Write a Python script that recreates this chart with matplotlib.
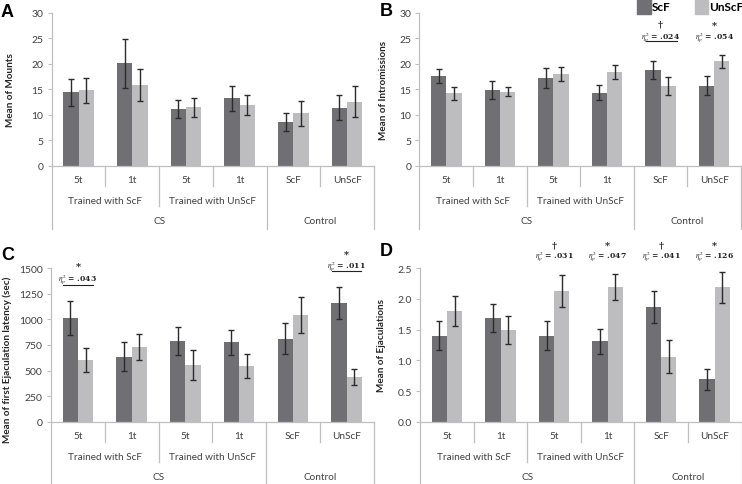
import matplotlib
matplotlib.use("Agg")
import matplotlib.pyplot as plt
from matplotlib.patches import Rectangle
from matplotlib.transforms import blended_transform_factory

plt.rcParams['font.family'] = ['Lato', 'DejaVu Sans']
plt.rcParams['mathtext.fontset'] = 'stix'

W, H = 742, 485

# data (ScF = dark bars, UnScF = light bars)
categories = ['5t', '1t', '5t', '1t', 'ScF', 'UnScF']
subgroups = ['Trained with ScF', 'Trained with UnScF']
groups = ['CS', 'Control']

mounts_scf = [14.4, 20.1, 11.1, 13.2, 8.6, 11.4]
mounts_scf_err = [2.6, 4.8, 1.7, 2.5, 1.75, 2.45]
mounts_unscf = [14.8, 15.8, 11.5, 11.9, 10.3, 12.6]
mounts_unscf_err = [2.4, 3.1, 1.85, 1.9, 2.45, 3.0]

intro_scf = [17.6, 14.9, 17.2, 14.3, 18.8, 15.7]
intro_scf_err = [1.4, 1.8, 1.9, 1.5, 1.85, 1.85]
intro_unscf = [14.2, 14.5, 18.0, 18.4, 15.6, 20.5]
intro_unscf_err = [1.35, 0.9, 1.45, 1.4, 1.8, 1.3]

latency_scf = [1011, 636, 789, 776, 812, 1164]
latency_scf_err = [168, 143, 135, 125, 150, 156]
latency_unscf = [603, 730, 558, 545, 1043, 437]
latency_unscf_err = [114, 127, 146, 120, 172, 82]

ejac_scf = [1.40, 1.69, 1.40, 1.31, 1.87, 0.69]
ejac_scf_err = [0.235, 0.235, 0.235, 0.20, 0.265, 0.175]
ejac_unscf = [1.80, 1.49, 2.13, 2.19, 1.06, 2.19]
ejac_unscf_err = [0.245, 0.23, 0.255, 0.21, 0.27, 0.255]

dark = '#707074'
light = '#bdbdbf'
grid_col = '#bfbfbf'
text_col = '#404040'

fig = plt.figure(figsize=(W / 100, H / 100), dpi=100)


def add_axes(left, right, top, bottom):
    return fig.add_axes([left / W, 1 - bottom / H, (right - left) / W, (bottom - top) / H])


def draw_panel(ax, scf, scf_err, unscf, unscf_err, ymax, step, ylabel, fmt, label_xy):
    x = range(len(categories))
    bw = 0.285
    ax.bar([i - bw / 2 for i in x], scf, bw, color=dark, zorder=2)
    ax.bar([i + bw / 2 for i in x], unscf, bw, color=light, zorder=2)
    ax.errorbar([i - bw / 2 for i in x], scf, yerr=scf_err, fmt='none',
                ecolor='#2b2b2b', elinewidth=1, capsize=2.5, capthick=1, zorder=3)
    ax.errorbar([i + bw / 2 for i in x], unscf, yerr=unscf_err, fmt='none',
                ecolor='#2b2b2b', elinewidth=1, capsize=2.5, capthick=1, zorder=3)
    ax.set_xlim(-0.5, len(categories) - 0.5)
    ax.set_ylim(0, ymax)
    ticks = [i * step for i in range(int(round(ymax / step)) + 1)]
    ax.set_yticks(ticks)
    ax.set_yticklabels([fmt.format(t) for t in ticks])
    ax.tick_params(axis='y', length=3, width=0.8, color=grid_col, labelsize=7.5,
                   labelcolor=text_col, pad=3)
    ax.set_xticks([])
    for s in ['top', 'right']:
        ax.spines[s].set_visible(False)
    for s in ['left', 'bottom']:
        ax.spines[s].set_color(grid_col)
        ax.spines[s].set_linewidth(0.9)
    ax.set_ylabel(ylabel, fontsize=7.2, fontweight='bold', color='#262626')
    ax.yaxis.set_label_coords(*label_xy)

    # multi level category axis
    h_px = ax.get_position().height * H
    tr = blended_transform_factory(ax.transData, ax.transAxes)

    def vline(xv, p0, p1):
        ax.plot([xv, xv], [-p0 / h_px, -p1 / h_px], transform=tr, color=grid_col,
                lw=0.9, clip_on=False)

    n = len(categories)
    for k in range(n + 1):
        xv = k - 0.5
        if k in (0, n, 4):
            vline(xv, 0, 63)
        elif k == 2:
            vline(xv, 0, 40)
        else:
            vline(xv, 0, 20)
    for i, c in enumerate(categories):
        ax.text(i, -14 / h_px, c, transform=tr, ha='center', va='center',
                fontsize=7.2, color=text_col)
    for i, c in enumerate(subgroups):
        ax.text(2 * i + 0.5, -35 / h_px, c, transform=tr, ha='center', va='center',
                fontsize=7.2, color=text_col)
    ax.text(1.5, -55 / h_px, groups[0], transform=tr, ha='center', va='center',
            fontsize=7.2, color=text_col)
    ax.text(4.5, -55 / h_px, groups[1], transform=tr, ha='center', va='center',
            fontsize=7.2, color=text_col)


def annotate(ax, xc, sym, ys, eta, ye, line=None):
    ax.text(xc, ys, sym, ha='center', va='center', fontsize=7, fontweight='bold',
            family='DejaVu Serif', color='#222222', clip_on=False)
    ax.text(xc, ye, r'$\boldsymbol{\eta^2_p}$' + ' = ' + eta, ha='center', va='center',
            fontsize=5.5, fontweight='bold', family='DejaVu Serif', color='#222222',
            clip_on=False)
    if line is not None:
        ax.plot([line[1], line[2]], [line[0], line[0]], color='#222222', lw=0.8,
                clip_on=False)


axA = add_axes(51.7, 373.9, 14, 166.6)
draw_panel(axA, mounts_scf, mounts_scf_err, mounts_unscf, mounts_unscf_err,
           30, 5, 'Mean of Mounts', '{:g}', (-0.114, 0.5))

axB = add_axes(419.5, 741, 14, 166.6)
draw_panel(axB, intro_scf, intro_scf_err, intro_unscf, intro_unscf_err,
           30, 5, 'Mean of Intromissions', '{:g}', (-0.098, 0.5))
annotate(axB, 4, '†', 27.8, '.024', 25.4, (24.4, 3.72, 4.3))
annotate(axB, 5, '*', 27.6, '.054', 25.4)

axC = add_axes(51, 373.5, 269.3, 422.7)
draw_panel(axC, latency_scf, latency_scf_err, latency_unscf, latency_unscf_err,
           1500, 250, 'Mean of first Ejaculation latency (sec)', '{:g}', (-0.122, 0.41))
annotate(axC, 0, '*', 1517, '.043', 1395, (1337, -0.28, 0.28))
annotate(axC, 5, '*', 1640, '.011', 1526, (1474, 4.72, 5.27))

axD = add_axes(420.3, 741.5, 269.3, 422.7)
draw_panel(axD, ejac_scf, ejac_scf_err, ejac_unscf, ejac_unscf_err,
           2.5, 0.5, 'Mean of Ejaculations', '{:.1f}', (-0.107, 0.5))
for xc, sym, eta in [(2, '†', '.031'), (3, '*', '.047'), (4, '†', '.041'), (5, '*', '.126')]:
    annotate(axD, xc, sym, 2.88, eta, 2.71)

# panel letters
for letter, px, py in [('A', 1, 12.5), ('B', 380, 11), ('C', 1, 255.5), ('D', 380, 251.5)]:
    fig.text(px / W, 1 - py / H, letter, fontsize=13, fontweight='bold',
             family='Liberation Sans', va='center', ha='left')

# legend
fig.add_artist(Rectangle((637 / W, 1 - 15 / H), 14 / W, 15 / H, transform=fig.transFigure,
                         color=dark))
fig.text(652 / W, 1 - 7.5 / H, 'ScF', fontsize=8.5, fontweight='bold', va='center')
fig.add_artist(Rectangle((695 / W, 1 - 15 / H), 13 / W, 15 / H, transform=fig.transFigure,
                         color=light))
fig.text(709 / W, 1 - 7.5 / H, 'UnScF', fontsize=8.5, fontweight='bold', va='center')

fig.savefig('out.png', dpi=100)
